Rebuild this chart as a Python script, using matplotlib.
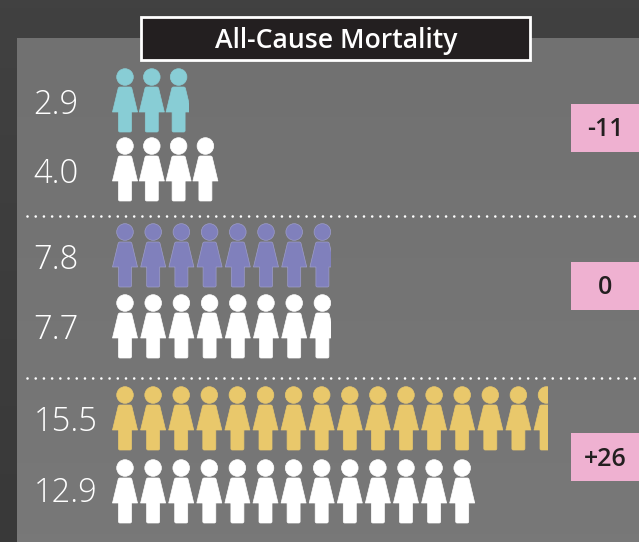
import math
import numpy as np
import matplotlib
matplotlib.use('Agg')
from matplotlib import pyplot as plt
from matplotlib.colors import LinearSegmentedColormap
from matplotlib.patches import Circle, PathPatch, Rectangle
from matplotlib.path import Path

# data
title = 'All-Cause Mortality'
values = [2.9, 4.0, 7.8, 7.7, 15.5, 12.9]
value_labels = ['2.9', '4.0', '7.8', '7.7', '15.5', '12.9']
diff_labels = ['-11', '0', '+26']

# layout, in pixels of the 639x542 picture
row_y = [77, 146, 232, 303, 395, 468]
row_pitch = [26.8, 26.8, 28.2, 28.2, 28.1, 28.1]
row_color = ['#88cdd5', 'white', '#8080bc', 'white', '#e9c86b', 'white']
row_edge = ['#88cdd5', 'white', '#9d9dcb', 'white', '#e9c86b', 'white']
last_visible = [0.92, 1.05, 0.86, 0.86, 0.54, 1.05]  # share of the last figure that shows
label_y = [103, 172, 258, 328, 420, 491]
diff_y = [128, 286, 457]
sep_y = [216, 378]
X0 = 125
ICON_W = 25

plt.rcParams['font.family'] = ['Open Sans', 'DejaVu Sans']

fig = plt.figure(figsize=(6.39, 5.42), dpi=100, facecolor='#3d3d3d')
ax = fig.add_axes([0, 0, 1, 1])
ax.axis('off')

# dark page and lighter panel, both with a slight top-down gradient
page = np.linspace(0, 1, 64).reshape(-1, 1)
ax.imshow(page, extent=(0, 639, 542, 0), cmap=LinearSegmentedColormap.from_list('p', ['#414141', '#393939']),
          aspect='auto', zorder=0)
ax.imshow(page, extent=(17, 639, 542, 38), cmap=LinearSegmentedColormap.from_list('q', ['#717171', '#787878']),
          aspect='auto', zorder=1)
ax.set_xlim(0, 639)
ax.set_ylim(542, 0)


def rounded(points, radii):
    # closed polygon, each corner rounded by its own radius
    verts, codes = [], []
    n = len(points)
    for i in range(n):
        p = np.array(points[i], float)
        a = np.array(points[i - 1], float)
        b = np.array(points[(i + 1) % n], float)
        r = max(radii[i], 0.01)
        p1 = p + (a - p) / np.linalg.norm(a - p) * r
        p2 = p + (b - p) / np.linalg.norm(b - p) * r
        verts += [p1, p, p2]
        codes += [Path.MOVETO if i == 0 else Path.LINETO, Path.CURVE3, Path.CURVE3]
    verts.append(verts[0])
    codes.append(Path.CLOSEPOLY)
    return Path(verts, codes)


def person(cx, cy, color, edge, clip_x):
    body = [(cx - 6.5, cy + 10), (cx + 6.5, cy + 10), (cx + 12.5, cy + 35), (cx + 6.5, cy + 35),
            (cx + 6.5, cy + 55), (cx - 6.5, cy + 55), (cx - 6.5, cy + 35), (cx - 12.5, cy + 35)]
    radii = [1.5, 1.5, 0, 0, 1.5, 1.5, 0, 0]
    clip = Rectangle((cx - 20, cy - 15), clip_x - cx + 20, 80, transform=ax.transData)
    for shape in [Circle((cx, cy), 8.3), PathPatch(rounded(body, radii))]:
        shape.set(facecolor=color, edgecolor=edge, linewidth=0.5, zorder=3)
        ax.add_patch(shape)
        shape.set_clip_path(clip)


for i, v in enumerate(values):
    count = math.ceil(v)
    for k in range(count):
        cx = X0 + k * row_pitch[i]
        clip_x = cx + ICON_W / 2 + 1
        if k == count - 1:
            clip_x = cx - ICON_W / 2 + last_visible[i] * ICON_W
        person(cx, row_y[i], row_color[i], row_edge[i], clip_x)
    ax.text(33.5, label_y[i] + 2.5, value_labels[i], color='white', fontsize=23.5, fontweight='light',
            ha='left', va='center', zorder=4)

for y in sep_y:
    ax.plot([27, 639], [y, y], color='white', linewidth=1.9, dash_capstyle='round',
            linestyle=(0, (0.01, 3.1)), zorder=2)

for y, lab in zip(diff_y, diff_labels):
    ax.add_patch(Rectangle((571, y - 24), 68, 48, facecolor='#efb1d1', edgecolor='none', zorder=3))
    ax.text(605.5, y + 2, lab, color='#231f20', fontsize=18, fontweight='semibold', ha='center', va='center', zorder=4)

ax.add_patch(Rectangle((141, 17), 389, 43, facecolor='#231f20', edgecolor='white', linewidth=2, zorder=5))
ax.text(336, 41, title, color='white', fontsize=19.2, fontweight='semibold', ha='center', va='center', zorder=6)

fig.savefig('out.png', dpi=100, facecolor=fig.get_facecolor())
